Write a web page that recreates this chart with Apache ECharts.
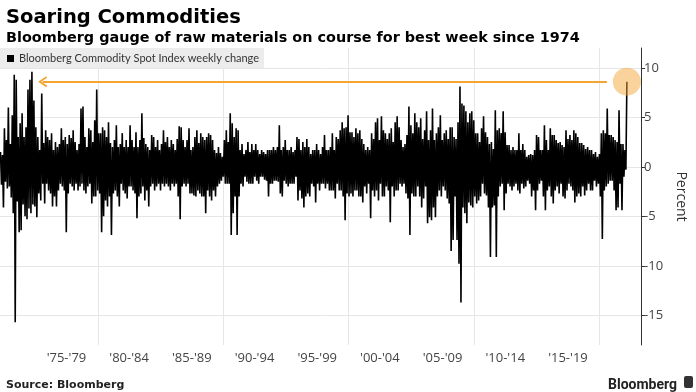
<!DOCTYPE html>
<html>
<head>
<meta charset="utf-8">
<script src="https://cdn.jsdelivr.net/npm/echarts@6/dist/echarts.min.js"></script>
<style>
html,body{margin:0;padding:0;background:#fff;}
#chart{width:696px;height:392px;}
</style>
</head>
<body>
<div id="chart"></div>
<script>
// Weekly % change of the Bloomberg Commodity Spot Index
// (alternating upper / lower extremes of successive ~4-week slices), 1972 -> Mar 2022
const weekly1972 = [1.5,-1.8, 1.2,-4.1, 3.9,-1.5, 2.7,-2.2, 6.0,-2.0, 2.3,-3.1, 5.2,-4.7, 9.3,-15.7, 8.8,-3.5, 3.0,-6.6, 4.4,-6.4, 5.4,-3.8, 3.0,-5.0, 4.0,-5.3, 7.8,-4.2, 8.8,-4.7, 9.6,-3.8, 6.7,-4.0, 4.0,-5.1, 3.0,-2.7, 1.7,-3.4, 7.4,-1.7, 2.4,-3.7, 3.7,-1.7, 3.0,-2.4, 2.7,-2.7, 3.4,-4.0, 1.7,-3.0, 2.5,-4.0, 2.0,-2.4, 2.3,-1.7, 3.9,-2.0, 2.7,-2.4, 3.0,-6.6, 2.3,-2.7, 3.2,-1.7, 2.9,-2.0, 3.7,-2.4, 2.5,-1.7, 1.7,-2.4, 2.3,-2.0, 5.9,-1.7, 6.1,-2.4, 3.0,-2.7, 2.0,-2.0, 3.9,-1.7];
const weekly1979 = [3.7,-3.7, 2.5,-3.0, 4.7,-3.0, 7.8,-2.4, 3.4,-2.7, 3.4,-6.6, 4.0,-5.0, 3.7,-3.4, 3.0,-4.0, 4.5,-3.0, 2.4,-6.9, 2.0,-2.7, 2.7,-2.4, 4.2,-3.0, 2.0,-4.0, 2.3,-1.7, 3.4,-2.4, 2.0,-2.7, 2.7,-3.2, 2.0,-2.0, 4.2,-2.0, 2.7,-2.4, 2.0,-2.7, 3.5,-5.2, 2.0,-3.0, 2.7,-2.7, 5.4,-2.0, 2.9,-3.4, 2.3,-2.4, 2.0,-4.0, 1.7,-2.0, 3.2,-1.7, 3.0,-2.4, 2.0,-2.0, 2.7,-1.7, 1.7,-2.4, 2.3,-1.7, 3.7,-2.0, 2.5,-1.7, 3.0,-2.0, 2.0,-2.4, 2.7,-1.7, 2.3,-2.0, 1.7,-1.7, 2.8,-3.0, 4.1,-5.3];
const weekly1986 = [4.0,-2.0, 2.7,-1.7, 2.0,-2.0, 2.7,-1.7, 3.9,-2.7, 1.7,-2.7, 2.0,-2.9, 3.0,-3.0, 3.7,-2.4, 2.4,-2.7, 3.4,-3.0, 3.0,-3.0, 2.7,-4.7, 3.0,-2.4, 3.4,-3.0, 3.2,-3.4, 2.7,-2.4, 1.7,-3.0, 1.4,-2.0, 2.0,-1.7, 1.4,-1.4, 1.0,-1.0, 2.7,-1.7, 3.7,-1.7, 2.5,-1.7, 5.4,-6.9, 4.4,-4.7, 3.0,-3.0, 3.9,-6.9, 3.7,-3.0, 1.7,-1.7, 2.3,-2.0, 1.3,-1.0, 1.7,-1.5, 2.5,-1.7, 1.5,-1.7, 2.3,-1.7, 1.7,-1.0, 2.3,-1.4, 1.7,-1.7, 1.3,-1.0, 1.7,-1.0, 1.5,-1.3, 1.3,-1.4, 1.7,-3.0, 1.7,-1.7];
const weekly1993 = [1.7,-1.7, 2.0,-1.4, 1.7,-1.4, 2.0,-1.5, 4.2,-2.7, 1.7,-3.0, 2.0,-1.4, 2.7,-1.7, 1.7,-2.0, 1.7,-1.7, 2.0,-1.7, 1.5,-1.7, 1.7,-1.0, 3.0,-3.4, 2.8,-2.4, 1.7,-3.2, 2.5,-4.1, 2.0,-3.0, 2.8,-2.7, 2.0,-3.0, 1.3,-1.7, 1.7,-2.0, 1.7,-3.6, 2.3,-1.7, 1.7,-2.4, 1.3,-1.7, 2.0,-1.7, 3.2,-2.2, 1.7,-1.7, 1.7,-2.4, 2.0,-2.4, 3.4,-2.4, 1.7,-3.2, 3.0,-1.7, 2.8,-2.4, 3.7,-2.4, 4.5,-3.0, 3.9,-5.4, 4.0,-2.7, 5.2,-3.0, 3.5,-2.7, 3.5,-3.0, 3.0,-2.4, 3.9,-2.4, 3.4,-3.0, 3.7,-3.0];
const weekly2001 = [2.8,-3.6, 2.3,-2.0, 1.7,-2.7, 2.0,-1.7, 1.7,-5.2, 3.4,-2.4, 2.8,-3.0, 4.5,-2.4, 4.9,-3.4, 2.7,-1.7, 5.1,-3.0, 3.7,-3.0, 3.4,-2.0, 2.8,-2.4, 3.4,-5.6, 3.9,-2.0, 2.5,-3.0, 4.5,-2.4, 5.1,-2.4, 4.0,-1.7, 2.7,-2.0, 2.0,-1.7, 2.3,-2.7, 3.2,-3.2, 6.1,-6.9, 4.2,-2.7, 3.4,-3.0, 5.4,-3.0, 4.5,-2.0, 4.0,-3.0, 4.9,-4.1, 2.8,-3.2, 3.7,-2.0, 5.6,-5.7, 2.7,-5.1, 3.7,-5.4, 5.9,-4.1, 2.7,-5.1, 3.4,-3.0, 4.0,-2.4, 5.2,-3.0, 2.7,-2.0, 3.4,-2.4, 3.7,-3.2, 2.8,-3.7, 4.0,-8.5];
const weekly2008 = [4.0,-7.4, 3.0,-3.0, 2.8,-7.4, 4.5,-9.8, 8.1,-13.7, 6.4,-4.1, 6.2,-4.7, 5.6,-5.7, 4.5,-3.6, 5.4,-3.9, 5.6,-4.1, 4.7,-3.0, 3.4,-3.7, 3.4,-3.4, 2.5,-3.0, 3.9,-1.7, 5.1,-2.7, 3.5,-2.9, 3.0,-4.1, 2.3,-9.1, 2.5,-4.1, 1.8,-3.9, 5.7,-9.1, 3.7,-3.0, 3.9,-2.0, 3.4,-1.7, 5.6,-4.4, 3.5,-2.7, 2.2,-1.7, 2.2,-2.0, 1.7,-2.4, 2.0,-2.0, 1.7,-1.7, 1.7,-2.4, 3.4,-2.7, 1.7,-1.7, 2.3,-2.2, 1.7,-2.0, 1.0,-1.4, 1.2,-1.7, 1.3,-3.0, 1.2,-2.4, 1.7,-4.4, 3.2,-2.4, 3.0,-1.7, 1.7,-1.4];
const weekly2015 = [1.7,-3.0, 4.2,-4.4, 2.7,-2.4, 1.7,-2.0, 3.9,-3.0, 3.2,-3.7, 3.2,-2.4, 2.7,-2.0, 2.4,-2.7, 2.5,-1.7, 2.2,-3.0, 2.0,-3.2, 3.7,-2.4, 2.8,-1.7, 3.2,-2.0, 2.7,-2.4, 3.7,-3.6, 3.4,-3.0, 3.0,-2.7, 2.4,-3.0, 2.4,-2.0, 2.2,-2.9, 1.8,-2.4, 2.0,-1.7, 1.7,-2.4, 1.7,-2.4, 1.3,-1.4, 1.5,-2.0, 1.0,-1.7, 1.3,-3.0, 3.4,-7.3, 3.7,-2.4, 3.4,-2.0, 5.9,-1.7, 3.2,-1.4, 3.2,-1.4, 3.0,-2.4, 2.7,-4.4, 2.5,-4.1, 5.7,-1.7, 2.3,-4.4, 2.3,-1.0, 1.7,-0.3, 8.6];

const firstYear = 1972.24;   // date of first observation (decimal year)
const lastYear = 2022.2;     // early March 2022

const periodCenters = [1977.5, 1982.5, 1987.5, 1992.5, 1997.5, 2002.5, 2007.5, 2012.5, 2017.5];
const periodLabels = ["'75-'79", "'80-'84", "'85-'89", "'90-'94", "'95-'99", "'00-'04", "'05-'09", "'10-'14", "'15-'19"];
const decadeLines = [1980, 1990, 2000, 2010, 2020];
const yTicks = [-15, -10, -5, 0, 5, 10];

const arrowFromYear = 2020.6;
const arrowToYear = 1975.6;

const values = [].concat(weekly1972, weekly1979, weekly1986, weekly1993, weekly2001, weekly2008, weekly2015);
const step = (lastYear - firstYear) / (values.length - 1);
const seriesData = values.map((v, i) => [firstYear + i * step, v]);
const latest = values[values.length - 1];

const chart = echarts.init(document.getElementById('chart'), null, {renderer: 'canvas'});
const sans = 'DejaVu Sans';
const labelFont = 'Open Sans';

chart.setOption({
  animation: false,
  backgroundColor: '#ffffff',
  title: [
    {text: 'Soaring Commodities', left: 1, top: 3,
     textStyle: {fontFamily: sans, fontWeight: 'bold', fontSize: 19.5, color: '#000'}},
    {text: 'Bloomberg gauge of raw materials on course for best week since 1974', left: 1, top: 26,
     textStyle: {fontFamily: sans, fontWeight: 'bold', fontSize: 14.4, color: '#000'}},
    {text: 'Source: Bloomberg', left: 1, top: 375,
     textStyle: {fontFamily: sans, fontWeight: 'bold', fontSize: 11, color: '#222'}},
    {text: 'Bloomberg', right: 14, top: 373,
     textStyle: {fontFamily: 'Roboto', fontWeight: 'bold', fontSize: 14, color: '#222'}}
  ],
  graphic: [
    {type: 'rect', right: 3, top: 376, shape: {width: 9, height: 12, r: 2}, style: {fill: '#333'}}
  ],
  legend: {
    left: 0, top: 48,
    backgroundColor: '#ececec',
    padding: [5, 5, 4, 7],
    itemWidth: 7, itemHeight: 7, itemGap: 5,
    icon: 'rect',
    textStyle: {fontFamily: 'Lato', fontSize: 11, color: '#333'},
    data: ['Bloomberg Commodity Spot Index weekly change']
  },
  grid: {left: 0, right: 44, top: 48, bottom: 47, containLabel: false},
  xAxis: {
    type: 'value',
    min: 1972.2, max: 2023.33,
    axisLine: {show: false},
    axisTick: {show: false, customValues: decadeLines},
    splitLine: {show: true, lineStyle: {color: '#e6e6e6', width: 1}},
    axisLabel: {
      customValues: periodCenters,
      margin: 7,
      fontFamily: labelFont, fontSize: 13, color: '#444',
      formatter: (v) => { const k = periodCenters.indexOf(v); return k >= 0 ? periodLabels[k] : ''; }
    }
  },
  yAxis: {
    type: 'value',
    position: 'right',
    min: -18, max: 12,
    axisLine: {show: true, lineStyle: {color: '#333', width: 1}},
    axisTick: {show: true, length: 4, customValues: yTicks, lineStyle: {color: '#333'}},
    axisLabel: {customValues: yTicks, margin: 3, fontFamily: labelFont, fontSize: 13, color: '#444'},
    splitLine: {show: true, lineStyle: {color: '#e6e6e6', width: 1}},
    name: 'Percent', nameLocation: 'middle', nameRotate: -90, nameGap: 28,
    nameTextStyle: {fontFamily: labelFont, fontSize: 14, color: '#333'}
  },
  series: [{
    name: 'Bloomberg Commodity Spot Index weekly change',
    type: 'line',
    data: seriesData,
    showSymbol: false,
    symbol: 'none',
    itemStyle: {color: '#000'},
    lineStyle: {color: '#000', width: 1.6},
    z: 2,
    markLine: {
      silent: true,
      symbol: ['none', 'path://M5,0 L10,8 L8.6,8.8 L5,3 L1.4,8.8 L0,8 Z'],
      symbolSize: [11, 9],
      label: {show: false},
      lineStyle: {color: '#f4a431', width: 2, type: 'solid'},
      data: [[{coord: [arrowFromYear, latest]}, {coord: [arrowToYear, latest]}]]
    },
    markPoint: {
      silent: true,
      symbol: 'circle',
      symbolSize: 28,
      itemStyle: {color: 'rgba(245,165,55,0.5)'},
      label: {show: false},
      data: [{coord: [lastYear, latest]}]
    }
  }]
});
</script>
</body>
</html>
